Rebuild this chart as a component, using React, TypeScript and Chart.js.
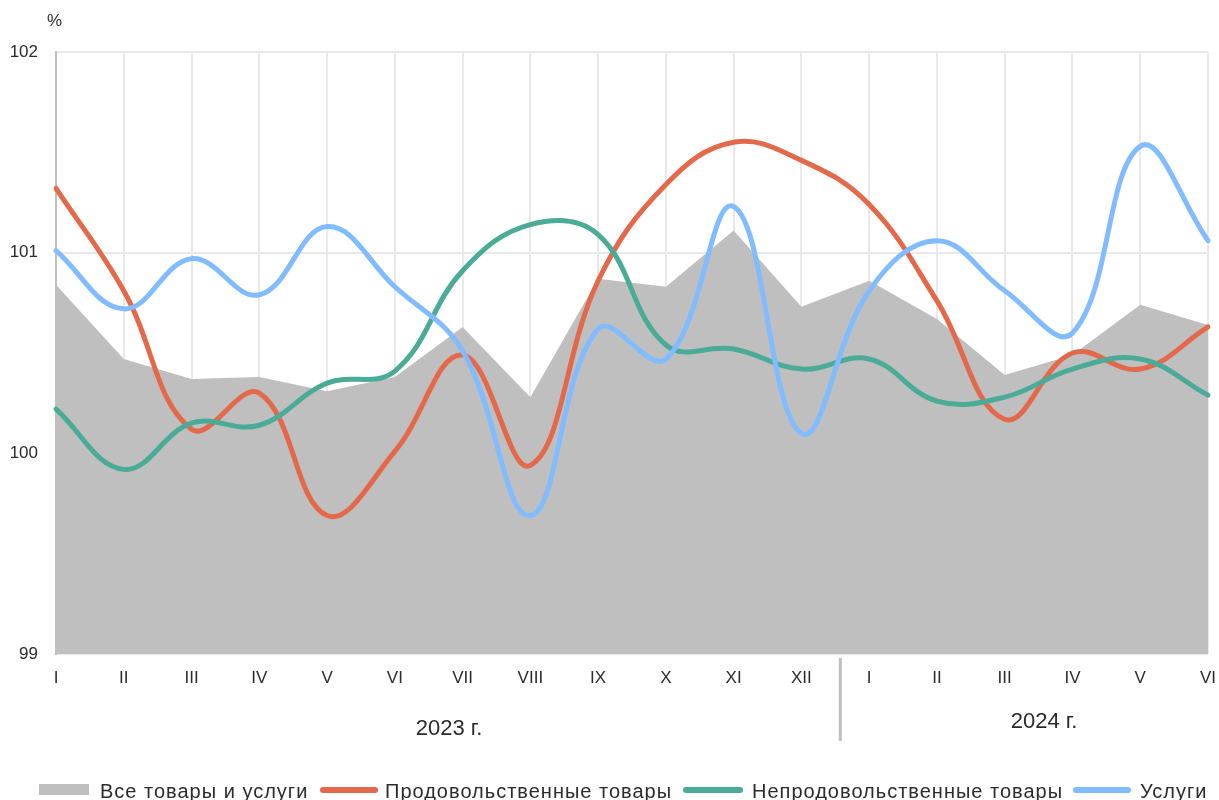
import React, { useEffect, useRef } from "react";
import { Chart, registerables } from "chart.js";

Chart.register(...registerables);

const months = ["I", "II", "III", "IV", "V", "VI", "VII", "VIII", "IX", "X", "XI", "XII", "I", "II", "III", "IV", "V", "VI"];
const allGoods = [100.84, 100.47, 100.37, 100.38, 100.31, 100.38, 100.63, 100.28, 100.87, 100.83, 101.11, 100.73, 100.86, 100.67, 100.39, 100.49, 100.74, 100.64];
const food = [101.32, 100.81, 100.12, 100.3, 99.69, 100.01, 100.49, 99.94, 100.86, 101.34, 101.55, 101.46, 101.24, 100.76, 100.17, 100.5, 100.42, 100.63];
const nonFood = [100.22, 99.92, 100.15, 100.14, 100.35, 100.41, 100.91, 101.14, 101.09, 100.54, 100.52, 100.42, 100.47, 100.26, 100.28, 100.42, 100.47, 100.29];
const services = [101.01, 100.72, 100.97, 100.79, 101.13, 100.83, 100.51, 99.69, 100.62, 100.47, 101.23, 100.1, 100.81, 101.06, 100.81, 100.6, 101.53, 101.06];
const yearLabels = ["2023 г.", "2024 г."];
const seriesNames = ["Все товары и услуги", "Продовольственные товары", "Непродовольственные товары", "Услуги"];
const yTicks = [99, 100, 101, 102];

const GRAY = "#bfbfbf";
const ORANGE = "#e4694a";
const TEAL = "#4aab97";
const BLUE = "#80bcff";
const TEXT = "#2b2b2b";
const FONT = "'Liberation Sans', Arial, sans-serif";

const overlay = {
  id: "overlay",
  afterDraw(chart: any) {
    const ctx = chart.ctx;
    const x = chart.scales.x;
    const ca = chart.chartArea;
    ctx.save();
    ctx.fillStyle = TEXT;
    ctx.font = `17px ${FONT}`;
    ctx.textAlign = "left";
    ctx.textBaseline = "middle";
    ctx.fillText("%", 47, 21);

    // year separator
    const sepX = (x.getPixelForValue(11) + x.getPixelForValue(12)) / 2 + 5;
    ctx.strokeStyle = GRAY;
    ctx.lineWidth = 3;
    ctx.beginPath();
    ctx.moveTo(sepX, ca.bottom + 4);
    ctx.lineTo(sepX, ca.bottom + 87);
    ctx.stroke();

    // year labels
    ctx.font = `22px ${FONT}`;
    ctx.textAlign = "center";
    ctx.fillText(yearLabels[0], 449, 729);
    ctx.fillText(yearLabels[1], 1044, 722);

    // legend
    ctx.textAlign = "left";
    ctx.font = `20px ${FONT}`;
    (ctx as any).letterSpacing = "1px";
    const ly = 790;
    ctx.fillStyle = GRAY;
    ctx.fillRect(39, ly - 6, 50, 11);
    const lines = [
      { x0: 323, x1: 375, c: ORANGE },
      { x0: 686, x1: 740, c: TEAL },
      { x0: 1076, x1: 1128, c: BLUE },
    ];
    ctx.lineCap = "round";
    ctx.lineWidth = 6;
    for (const l of lines) {
      ctx.strokeStyle = l.c;
      ctx.beginPath();
      ctx.moveTo(l.x0, ly);
      ctx.lineTo(l.x1, ly);
      ctx.stroke();
    }
    ctx.fillStyle = TEXT;
    const tx = [100, 385, 752, 1140];
    seriesNames.forEach((n, i) => ctx.fillText(n, tx[i], ly + 2));
    (ctx as any).letterSpacing = "0px";
    ctx.restore();
  },
};

export default function App() {
  const ref = useRef<HTMLCanvasElement | null>(null);
  useEffect(() => {
    if (!ref.current) return;
    const lineDs = (label: string, data: number[], color: string) => ({
      type: "line" as const,
      label,
      data,
      borderColor: color,
      backgroundColor: color,
      borderWidth: 5,
      pointRadius: 0,
      tension: 0.4,
      fill: false,
      borderCapStyle: "round" as const,
    });
    const chart = new Chart(ref.current, {
      type: "line",
      data: {
        labels: months,
        datasets: [
          {
            label: seriesNames[0],
            data: allGoods,
            borderWidth: 0,
            borderColor: GRAY,
            backgroundColor: GRAY,
            pointRadius: 0,
            tension: 0,
            fill: "start",
            order: 4,
          },
          { ...lineDs(seriesNames[1], food, ORANGE), order: 3 },
          { ...lineDs(seriesNames[2], nonFood, TEAL), order: 2 },
          { ...lineDs(seriesNames[3], services, BLUE), order: 1 },
        ],
      },
      options: {
        animation: false,
        responsive: true,
        maintainAspectRatio: false,
        layout: { padding: { left: 0, top: 52, right: 11, bottom: 0 } },
        plugins: { legend: { display: false }, tooltip: { enabled: false } },
        scales: {
          x: {
            offset: false,
            grid: { color: "#e9e9e9", lineWidth: 2, drawTicks: false },
            border: { display: false },
            ticks: {
              color: TEXT,
              font: { size: 17, family: FONT },
              padding: 14,
              maxRotation: 0,
              autoSkip: false,
            },
            afterFit: (s: any) => {
              s.height = 146;
              s.paddingLeft = 0;
              s.paddingRight = 0;
            },
          },
          y: {
            min: 99,
            max: 102,
            afterBuildTicks: (s: any) => {
              s.ticks = yTicks.map((v) => ({ value: v }));
            },
            grid: { color: "#e9e9e9", lineWidth: 2, drawTicks: false },
            border: { display: true, color: GRAY, width: 2 },
            ticks: {
              color: TEXT,
              font: { size: 17, family: FONT },
              padding: 18,
            },
            afterFit: (s: any) => {
              s.width = 56;
              s.paddingTop = 0;
              s.paddingBottom = 0;
            },
          },
        },
      },
      plugins: [overlay],
    });
    return () => chart.destroy();
  }, []);
  return (
    <div style={{ position: "fixed", left: 0, top: 0, width: 1219, height: 800, background: "#fff" }}>
      <canvas ref={ref} />
    </div>
  );
}
